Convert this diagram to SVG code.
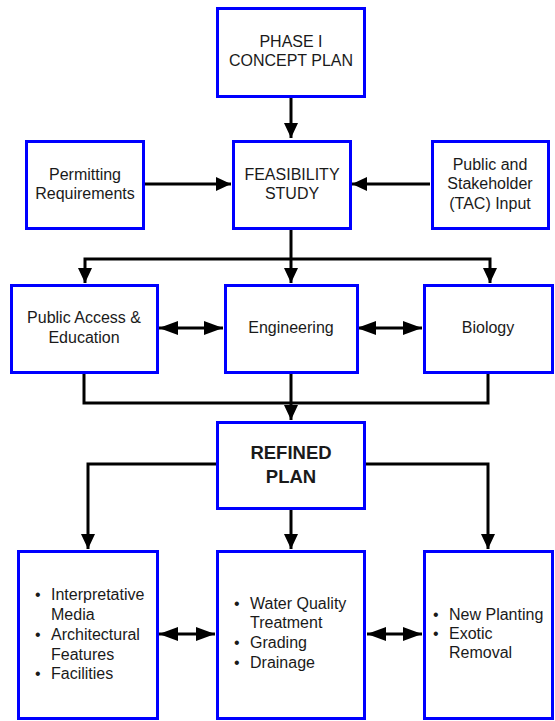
<svg xmlns="http://www.w3.org/2000/svg" width="555" height="721" viewBox="0 0 555 721">
<style>
.box{fill:#ffffff;stroke:#0000ff;stroke-width:3}
.t{font-family:"Liberation Sans",Arial,sans-serif;font-size:16px;fill:#1a1a1a}
.c{text-anchor:middle}
.b{font-weight:bold;font-size:18.5px}
.ln{fill:none;stroke:#000000;stroke-width:3}
</style>
<defs>
<marker id="ah" markerUnits="userSpaceOnUse" markerWidth="16" markerHeight="14" refX="15" refY="7" orient="auto-start-reverse" viewBox="0 0 16 14">
<path d="M0,0 L15,7 L0,14 z" fill="#000000"/>
</marker>
<marker id="ah2" markerUnits="userSpaceOnUse" markerWidth="20" markerHeight="14" refX="19" refY="7" orient="auto-start-reverse" viewBox="0 0 20 14">
<path d="M0,0 L19,7 L0,14 z" fill="#000000"/>
</marker>
</defs>
<rect width="555" height="721" fill="#ffffff"/>
<g id="connectors">
<path class="ln" d="M291,97 V138" marker-end="url(#ah)"/>
<path class="ln" d="M144,184 H231" marker-end="url(#ah)"/>
<path class="ln" d="M430,184 H352" marker-end="url(#ah)"/>
<path class="ln" d="M291,229 V283" marker-end="url(#ah)"/>
<path class="ln" d="M291,259 H85 V283" marker-end="url(#ah)"/>
<path class="ln" d="M291,259 H490 V283" marker-end="url(#ah)"/>
<path class="ln" d="M159,328 H223" marker-start="url(#ah2)" marker-end="url(#ah2)"/>
<path class="ln" d="M357,328 H422" marker-start="url(#ah2)" marker-end="url(#ah2)"/>
<path class="ln" d="M84,373 V403 H488 V373"/>
<path class="ln" d="M291,373 V420" marker-end="url(#ah)"/>
<path class="ln" d="M216,464 H88 V549" marker-end="url(#ah)"/>
<path class="ln" d="M366,464 H488 V549" marker-end="url(#ah)"/>
<path class="ln" d="M291,509 V549" marker-end="url(#ah)"/>
<path class="ln" d="M159,634 H215" marker-start="url(#ah2)" marker-end="url(#ah2)"/>
<path class="ln" d="M367,634 H422" marker-start="url(#ah2)" marker-end="url(#ah2)"/>
</g>
<g id="phase1">
<rect class="box" x="217.5" y="8.5" width="147" height="88"/>
<text class="t c" x="291" y="47">PHASE I</text>
<text class="t c" x="291" y="66">CONCEPT PLAN</text>
</g>
<g id="permitting">
<rect class="box" x="26.5" y="141.5" width="117" height="87"/>
<text class="t c" x="85" y="180">Permitting</text>
<text class="t c" x="85" y="199">Requirements</text>
</g>
<g id="feasibility">
<rect class="box" x="233.5" y="141.5" width="117" height="87"/>
<text class="t c" x="292" y="180">FEASIBILITY</text>
<text class="t c" x="292" y="199">STUDY</text>
</g>
<g id="stakeholder">
<rect class="box" x="432.5" y="141.5" width="116" height="87"/>
<text class="t c" x="490" y="170">Public and</text>
<text class="t c" x="490" y="189">Stakeholder</text>
<text class="t c" x="490" y="209">(TAC) Input</text>
</g>
<g id="public-access">
<rect class="box" x="11.5" y="285.5" width="146" height="87"/>
<text class="t c" x="84" y="323">Public Access &amp;</text>
<text class="t c" x="84" y="343">Education</text>
</g>
<g id="engineering">
<rect class="box" x="225.5" y="285.5" width="132" height="87"/>
<text class="t c" x="291" y="333">Engineering</text>
</g>
<g id="biology">
<rect class="box" x="424.5" y="285.5" width="128" height="87"/>
<text class="t c" x="488" y="333">Biology</text>
</g>
<g id="refined">
<rect class="box" x="217.5" y="422.5" width="147" height="86"/>
<text class="t c b" x="291" y="459">REFINED</text>
<text class="t c b" x="291" y="483">PLAN</text>
</g>
<g id="public-items">
<rect class="box" x="18.5" y="551.5" width="139" height="167"/>
<text class="t" x="35" y="600">•</text>
<text class="t" x="51" y="600">Interpretative</text>
<text class="t" x="51" y="620">Media</text>
<text class="t" x="35" y="640">•</text>
<text class="t" x="51" y="640">Architectural</text>
<text class="t" x="51" y="660">Features</text>
<text class="t" x="35" y="679">•</text>
<text class="t" x="51" y="679">Facilities</text>
</g>
<g id="engineering-items">
<rect class="box" x="217.5" y="551.5" width="147" height="167"/>
<text class="t" x="234" y="609">•</text>
<text class="t" x="250" y="609">Water Quality</text>
<text class="t" x="250" y="628">Treatment</text>
<text class="t" x="234" y="648">•</text>
<text class="t" x="250" y="648">Grading</text>
<text class="t" x="234" y="668">•</text>
<text class="t" x="250" y="668">Drainage</text>
</g>
<g id="biology-items">
<rect class="box" x="424.5" y="551.5" width="128" height="167"/>
<text class="t" x="433" y="620">•</text>
<text class="t" x="449" y="620">New Planting</text>
<text class="t" x="433" y="639">•</text>
<text class="t" x="449" y="639">Exotic</text>
<text class="t" x="449" y="658">Removal</text>
</g>
</svg>
